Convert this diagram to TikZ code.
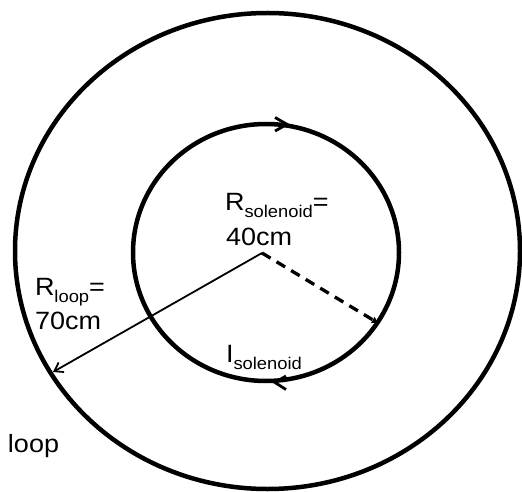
\documentclass[tikz,border=0pt]{standalone}
\usepackage{fontspec}
\setmainfont{Liberation Sans}[FakeStretch=1.08]
\usetikzlibrary{arrows.meta}
\newcommand{\bigtxt}{\fontsize{25}{25}\selectfont}
\newcommand{\subtxt}{\fontsize{17}{17}\selectfont}
\begin{document}
\begin{tikzpicture}[x=1pt,y=-1pt,
  ring/.style={line width=4.5pt},
  lbl/.style={anchor=base west, inner sep=0pt, outer sep=0pt, font=\bigtxt},
  barb/.style={line width=2.8pt, line join=miter}]
\useasboundingbox (0,0) rectangle (522,492);
\coordinate (O) at (262,253);
\coordinate (Pout) at (53,372);
\coordinate (Pin) at (378,323);
\draw[ring] (267.5,251) ellipse [x radius=252.5pt, y radius=238pt];
\draw[ring] (266,252.5) ellipse [x radius=133pt, y radius=128.5pt];
\draw[barb] (275,117.5) -- (287,124.3) -- (275,131);
\draw[barb] (286,376) -- (275,382.5) -- (286,389.5);
\draw[line width=1.8pt, -{Straight Barb[length=8pt,width=11pt]}] (O) -- (Pout);
\draw[line width=3.3pt, dash pattern=on 10pt off 7pt, -{Latex[length=6pt,width=8pt]}] (O) -- (Pin);
\node[lbl] (rsol) at (225,210) {R\raisebox{-7pt}{\subtxt solenoid}=};
\node[lbl] (rsolv) at (226,245) {40cm};
\node[lbl] (rloop) at (35,295) {R\raisebox{-7pt}{\subtxt loop}=};
\node[lbl] (rloopv) at (35,329.5) {70cm};
\node[lbl] (isol) at (226,362) {I\raisebox{-7pt}{\subtxt solenoid}};
\node[lbl] (loop) at (8,452) {loop};
\end{tikzpicture}
\end{document}
